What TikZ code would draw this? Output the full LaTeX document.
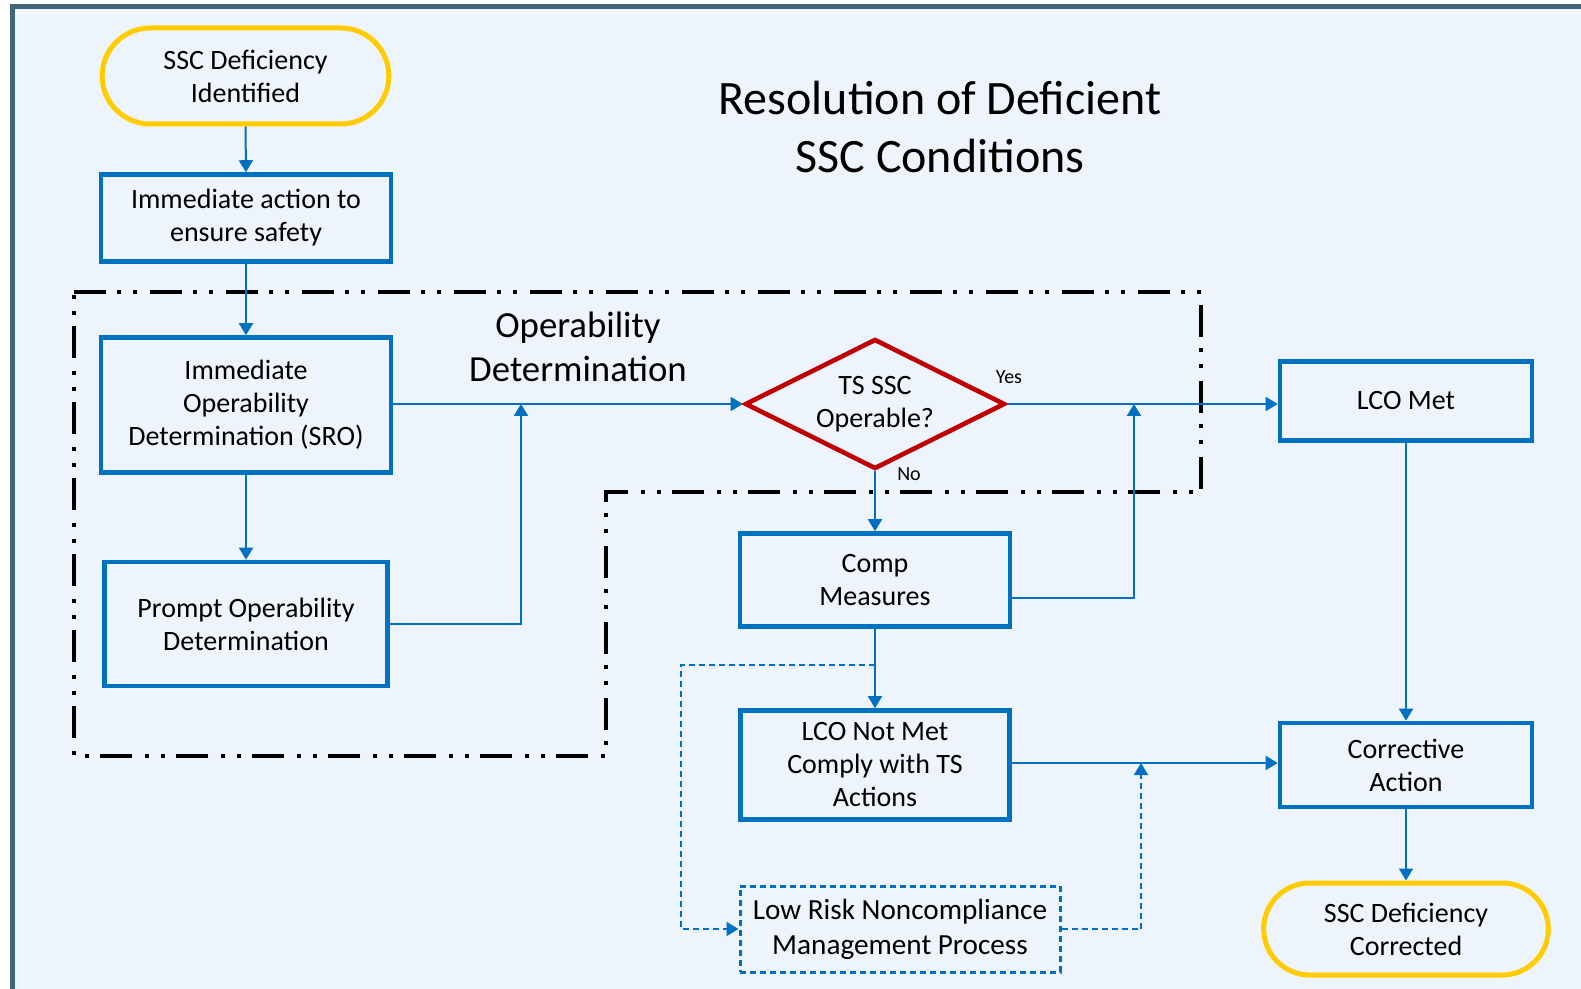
\documentclass[tikz,border=0pt]{standalone}
\usepackage{fontspec}
\setmainfont{Carlito}
\usetikzlibrary{shapes.geometric,shapes.misc,arrows.meta}
\definecolor{flowblue}{RGB}{0,112,192}
\definecolor{termyellow}{RGB}{255,204,0}
\definecolor{decisionred}{RGB}{192,0,0}
\definecolor{framegray}{RGB}{65,101,123}
\definecolor{paperblue}{RGB}{238,244,251}

\begin{document}
\begin{tikzpicture}[x=0.5pt, y=-0.5pt,
    boxtext/.style={align=center, font=\fontsize{14}{16.5}\selectfont},
    box/.style={boxtext, draw=flowblue, line width=2.3pt, inner sep=2pt},
    terminal/.style={boxtext, rounded rectangle, draw=termyellow, line width=2.5pt},
    decision/.style={boxtext, diamond, aspect=2, draw=decisionred, line width=2.3pt, inner sep=0pt},
    flow/.style={draw=flowblue, line width=1pt, -{Triangle[length=6pt,width=7pt]}},
    dashedflow/.style={flow, dash pattern=on 3pt off 2pt},
    region/.style={draw=black, line width=2pt, dash pattern=on 16pt off 5.5pt on 2pt off 6pt on 2pt off 6.5pt}]

    \useasboundingbox (0,0) rectangle (1581,989);
    \fill[white] (0,0) rectangle (1581,989);
    \fill[paperblue] (12,7) rectangle (1581,989);
    \draw[framegray, line width=2.5pt] (12,989) -- (12,7) -- (1581,7);

    % operability determination boundary
    \draw[region] (74,292) -- (1201,292) -- (1201,492) -- (606,492) -- (606,756) -- (74,756) -- cycle;

    \node (title) at (940,127) [align=center, font=\fontsize{24}{29}\selectfont] {Resolution of Deficient\\SSC Conditions};
    \node (oplabel) at (578,347) [align=center, font=\fontsize{18.4}{22.2}\selectfont] {Operability\\Determination};

    % left column
    \node[terminal, minimum width=150pt, minimum height=48pt] (start) at (245.5,76) {SSC Deficiency\\Identified};
    \node[box, minimum width=145pt, minimum height=43.5pt] (act) at (246,218) {Immediate action to\\ensure safety};
    \node[box, minimum width=145pt, minimum height=67.5pt] (iod) at (246,405) {Immediate\\Operability\\Determination (SRO)};
    \node[box, minimum width=141.5pt, minimum height=62pt] (pod) at (246,624) {Prompt Operability\\Determination};

    % middle column
    \node[decision, minimum width=130pt, minimum height=65pt] (dec) at (875,404) {TS SSC\\Operable?};
    \node (yes) at (1009,377) [font=\fontsize{10}{12}\selectfont] {Yes};
    \node (no) at (909,474) [font=\fontsize{10}{12}\selectfont] {No};
    \node[box, minimum width=135pt, minimum height=46.5pt] (comp) at (875,580) {Comp\\Measures};
    \node[box, minimum width=134.5pt, minimum height=54.5pt] (notmet) at (875,765) {LCO Not Met\\Comply with TS\\Actions};
    \node[align=center, font=\fontsize{14.6}{17.5}\selectfont, draw=flowblue, line width=1.5pt, dash pattern=on 3pt off 2pt, minimum width=160pt, minimum height=43pt] (lowrisk) at (900,929) {Low Risk Noncompliance\\Management Process};

    % right column
    \node[box, minimum width=126pt, minimum height=39.5pt] (lco) at (1406,401) {LCO Met};
    \node[box, minimum width=126pt, minimum height=42pt] (corr) at (1406,765) {Corrective\\Action};
    \node[terminal, minimum width=149pt, minimum height=46pt] (done) at (1406,929) {SSC Deficiency\\Corrected};

    \coordinate (j1) at (521,404);
    \coordinate (j2) at (1134,404);
    \coordinate (j3) at (875,665);
    \coordinate (j4) at (1141,763);
    \coordinate (j5) at (681,665);

    \draw[flow] (start.south) -- (act.north);
    \draw[flow] (act) -- (iod);
    \draw[flow] (iod) -- (pod);
    \draw[flow] (iod.east |- dec.west) -- (dec.west);
    \draw[flow] (pod.east) -| (j1);
    \draw[flow] (dec.east) -- (dec.east -| lco.west);
    \draw[flow] ([yshift=-9pt]comp.east) -| (j2);
    \draw[flow] (dec.south) -- (comp.north);
    \draw[flow] (comp.south) -- (notmet.north);
    \draw[dashedflow] (j3) -- (j5) |- (lowrisk.west);
    \draw[dashedflow] (lowrisk.east) -| (j4);
    \draw[flow] (notmet.east |- j4) -- (corr.west |- j4);
    \draw[flow] (lco.south) -- (corr.north);
    \draw[flow] (corr.south) -- (done.north);
\end{tikzpicture}
\end{document}
